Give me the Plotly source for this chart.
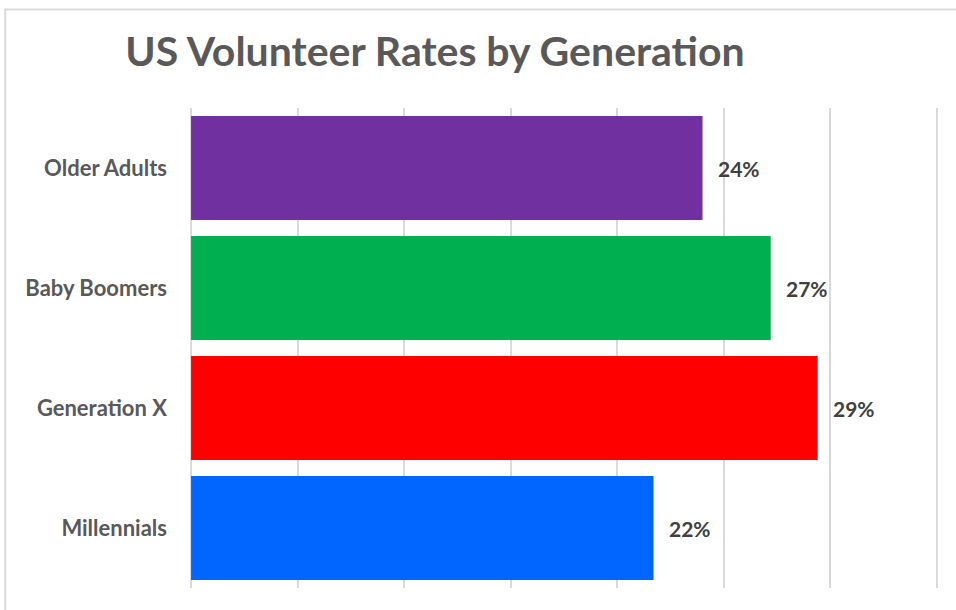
import plotly.graph_objects as go

# Data (bottom to top)
generations = ["Millennials", "Generation X", "Baby Boomers", "Older Adults"]
rates = [21.7, 29.4, 27.2, 24.0]
rate_labels = ["22%", "29%", "27%", "24%"]
bar_colors = ["#0066FF", "#FF0000", "#00B050", "#7030A0"]

FONT = "Lato"

fig = go.Figure()

fig.add_trace(go.Bar(
    x=rates,
    y=generations,
    orientation="h",
    marker=dict(color=bar_colors, line=dict(width=0)),
    hoverinfo="skip",
))

# Value labels just outside the bar ends
for gen, val, lab in zip(generations, rates, rate_labels):
    fig.add_annotation(
        x=val, y=gen, text=lab, showarrow=False,
        xanchor="left", xshift=13,
        font=dict(family=FONT, size=21, color="#404040", weight="bold"),
    )

# Light grey chart border (cut off at right and bottom like the reference)
fig.add_shape(
    type="rect", xref="paper", yref="paper",
    x0=-0.247, x1=1.2, y0=-0.2, y1=1.205,
    line=dict(color="#D9D9D9", width=2),
    layer="below",
)

fig.update_layout(
    title=dict(
        text="US Volunteer Rates by Generation",
        x=0.455, xref="container", xanchor="center",
        y=0.915, yref="container", yanchor="middle",
        font=dict(family=FONT, size=41, color="#595959", weight="bold"),
    ),
    width=956,
    height=610,
    margin=dict(l=190, r=18, t=108, b=22),
    paper_bgcolor="white",
    plot_bgcolor="white",
    bargap=0.133,
    showlegend=False,
    xaxis=dict(
        # padded a hair so the 0 and 35 grid lines are not dropped at the edges
        range=[-0.05, 35.05],
        dtick=5,
        tick0=0,
        showticklabels=False,
        showgrid=True,
        gridcolor="#D9D9D9",
        gridwidth=1.5,
        zeroline=False,
        fixedrange=True,
    ),
    yaxis=dict(
        showgrid=False,
        zeroline=False,
        ticks="",
        ticklabelstandoff=22,
        tickfont=dict(family=FONT, size=22, color="#595959", weight="bold"),
        fixedrange=True,
    ),
)

# drop the default 8px page margin so the figure sits at the window origin
fig.write_html(
    "out.html",
    config={"displayModeBar": False},
    post_script="document.body.style.margin='0';",
)
